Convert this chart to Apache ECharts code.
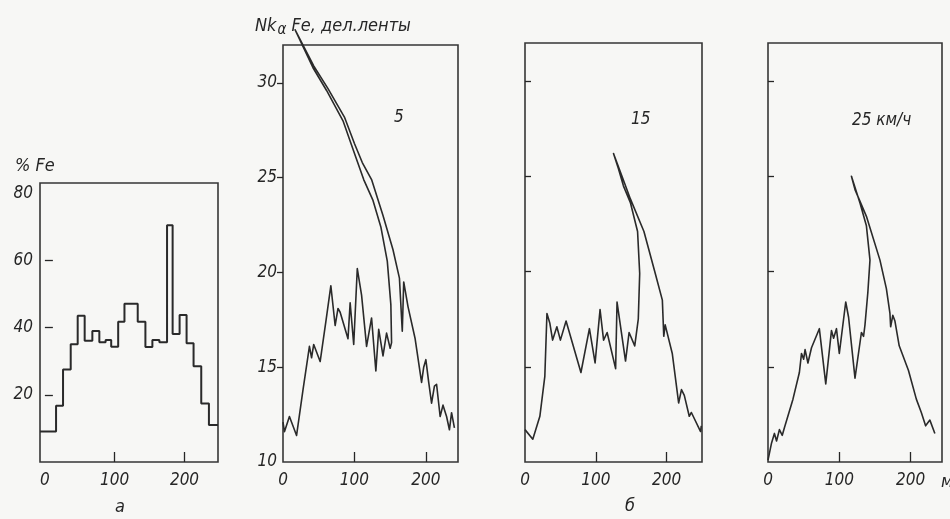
<!DOCTYPE html>
<html>
<head>
<meta charset="utf-8">
<script src="https://cdn.jsdelivr.net/npm/echarts@6/dist/echarts.min.js"></script>
<style>
  html, body { margin: 0; padding: 0; background: #f7f7f5; }
  #chart { width: 950px; height: 519px; }
</style>
</head>
<body>
<div id="chart"></div>
<script>
// panel a: %Fe histogram (bin edges along the strip, m)
var binEdges = [-7, 16, 26, 37, 47, 57, 68, 78, 87, 95, 105, 114, 133, 144, 154, 164, 175, 183, 193, 203, 213, 224, 235, 248];
var feValues = [9.1, 16.7, 27.5, 35.0, 43.5, 36.1, 39.0, 35.6, 36.3, 34.3, 41.7, 47.1, 41.7, 34.2, 36.3, 35.6, 70.4, 38.1, 43.7, 35.3, 28.5, 17.4, 11.0];

// recorder traces Nk-alpha Fe at 5, 15, 25 km/h  [m, divisions]
var trace5 = [
  [0, 12.1], [2, 11.6], [9, 12.4], [19, 11.4], [28, 13.8], [37, 16.1], [40, 15.5], [43, 16.2], [52, 15.3],
  [60, 17.4], [67, 19.3], [73, 17.2], [77, 18.1], [80, 17.9], [91, 16.5], [94, 18.4], [99, 16.2], [104, 20.2],
  [110, 18.8], [117, 16.1], [124, 17.6], [130, 14.8], [134, 17.0], [140, 15.6], [145, 16.8], [150, 16.0],
  [152, 16.3], [151, 18.3], [146, 20.6], [137, 22.4], [126, 23.8], [113, 24.9], [98, 26.5], [84, 28.0],
  [61, 29.6], [42, 30.8], [17, 32.8],
  [18, 32.8], [43, 30.9], [63, 29.7], [86, 28.2], [100, 26.8], [111, 25.8], [124, 24.9], [140, 23.0],
  [154, 21.2], [163, 19.7], [167, 16.9], [169, 19.5], [175, 18.2], [185, 16.5], [194, 14.2], [197, 15.0],
  [200, 15.4], [204, 14.2], [208, 13.1], [212, 14.0], [215, 14.1], [220, 12.4], [224, 13.0], [229, 12.4],
  [233, 11.7], [236, 12.6], [240, 11.8]
];
var trace15 = [
  [0, 11.7], [11, 11.2], [21, 12.4], [28, 14.5], [31, 17.8], [35, 17.3], [39, 16.4], [45, 17.1], [50, 16.4],
  [58, 17.4], [79, 14.7], [91, 17.0], [99, 15.2], [106, 18.0], [111, 16.4], [116, 16.8], [128, 14.9],
  [130, 18.4], [142, 15.3], [147, 16.8], [155, 16.1],
  [160, 17.5], [162, 19.9], [159, 22.1], [149, 23.6], [139, 24.5], [132, 25.4], [125, 26.2],
  [137, 25.0], [149, 23.8], [168, 22.1], [184, 19.9], [194, 18.5], [196, 16.6], [198, 17.2], [208, 15.7],
  [217, 13.1], [221, 13.8], [225, 13.5], [232, 12.4], [235, 12.6], [248, 11.6], [249, 11.9]
];
var trace25 = [
  [0, 10.1], [5, 11.0], [9, 11.5], [12, 11.1], [16, 11.7], [20, 11.4], [23, 11.8], [35, 13.3], [44, 14.7],
  [47, 15.7], [50, 15.4], [52, 15.9], [56, 15.2], [61, 16.0], [72, 17.0], [81, 14.1], [89, 16.9], [92, 16.5],
  [96, 17.0], [100, 15.7], [109, 18.4], [113, 17.6], [122, 14.4], [131, 16.8], [134, 16.6], [136, 17.2],
  [140, 18.9], [143, 20.6], [138, 22.4], [129, 23.6], [117, 25.0],
  [122, 24.3], [138, 22.9], [157, 20.6], [166, 19.1], [171, 17.8], [172, 17.1], [175, 17.7], [178, 17.4],
  [184, 16.1], [197, 14.8], [199, 14.9], [208, 13.3], [215, 12.6], [221, 11.9], [227, 12.2], [234, 11.5]
];

var xTickLabels = [0, 100, 200];
var feTickLabels = [20, 40, 60, 80];
var nkTickLabels = [10, 15, 20, 25, 30];

var ink = '#262626';
var fontFam = '"Liberation Sans Narrow", "DejaVu Sans Condensed", sans-serif';

var histData = binEdges.map(function (e, i) {
  return [e, i < feValues.length ? feValues[i] : feValues[feValues.length - 1]];
});

function lbl(extra) {
  var o = { color: ink, fontSize: 17, fontStyle: 'italic', fontWeight: 'normal', fontFamily: fontFam };
  for (var k in extra) o[k] = extra[k];
  return o;
}

function xAx(idx, min, max) {
  return {
    type: 'value', gridIndex: idx, min: min, max: max,
    axisLine: { show: false },
    splitLine: { show: false },
    axisTick: { show: true, inside: true, length: 10, customValues: [100, 200], lineStyle: { color: ink, width: 1.3 } },
    axisLabel: lbl({ margin: 10, customValues: xTickLabels })
  };
}

function nkY(idx, showLabels) {
  return {
    type: 'value', gridIndex: idx, min: 10, max: 32,
    axisLine: { show: false },
    splitLine: { show: false },
    axisTick: { show: true, inside: !showLabels, length: 6, customValues: [15, 20, 25, 30], lineStyle: { color: ink, width: 1.3 } },
    axisLabel: lbl({ show: showLabels, margin: 6, customValues: nkTickLabels })
  };
}

function gridAt(l, t, w, h) {
  return { left: l, top: t, width: w, height: h, show: true, borderColor: '#363636', borderWidth: 1.6, backgroundColor: 'transparent' };
}

function traceSeries(idx, data) {
  return {
    type: 'line', xAxisIndex: idx, yAxisIndex: idx, data: data,
    showSymbol: false, clip: false,
    lineStyle: { color: '#2a2a2a', width: 1.6, join: 'round' }
  };
}

var chart = echarts.init(document.getElementById('chart'));
var option = {
  backgroundColor: '#f7f7f5',
  animation: false,
  title: [
    { text: '% Fe', left: 10, top: 152, textStyle: lbl({ fontSize: 18 }) },
    {
      text: '{a|Nk}{s|α}{a| Fe, дел.ленты}', left: 250, top: 10,
      textStyle: { rich: { a: lbl({ fontSize: 18 }), s: lbl({ fontSize: 15, verticalAlign: 'bottom', padding: [8, 0, 0, 1] }) } }
    },
    { text: '5', left: 389, top: 104, textStyle: lbl({}) },
    { text: '15', left: 626, top: 106, textStyle: lbl({}) },
    { text: '25 км/ч', left: 847, top: 107, textStyle: lbl({}) },
    { text: 'а', left: 110, top: 493, textStyle: lbl({ fontSize: 18 }) },
    { text: 'б', left: 620, top: 492, textStyle: lbl({ fontSize: 18 }) },
    { text: 'м', left: 936, top: 468, textStyle: lbl({ fontSize: 18 }) }
  ],
  grid: [
    gridAt(40, 183, 178, 279),
    gridAt(283, 45, 175, 417),
    gridAt(525, 43, 177, 419),
    gridAt(768, 43, 174, 419)
  ],
  xAxis: [
    xAx(0, -7, 248),
    xAx(1, 0, 245),
    xAx(2, 0, 250),
    xAx(3, 0, 244)
  ],
  yAxis: [
    {
      type: 'value', gridIndex: 0, min: 0, max: 83,
      axisLine: { show: false },
      splitLine: { show: false },
      axisTick: { show: true, inside: true, length: 8, customValues: [20, 40, 60], lineStyle: { color: ink, width: 1.3 } },
      axisLabel: lbl({ margin: 7, customValues: feTickLabels })
    },
    nkY(1, true),
    nkY(2, false),
    nkY(3, false)
  ],
  series: [
    {
      type: 'line', xAxisIndex: 0, yAxisIndex: 0, data: histData, step: 'end',
      showSymbol: false, lineStyle: { color: '#2a2a2a', width: 2 }
    },
    traceSeries(1, trace5),
    traceSeries(2, trace15),
    traceSeries(3, trace25)
  ]
};
option && chart.setOption(option);
</script>
</body>
</html>
